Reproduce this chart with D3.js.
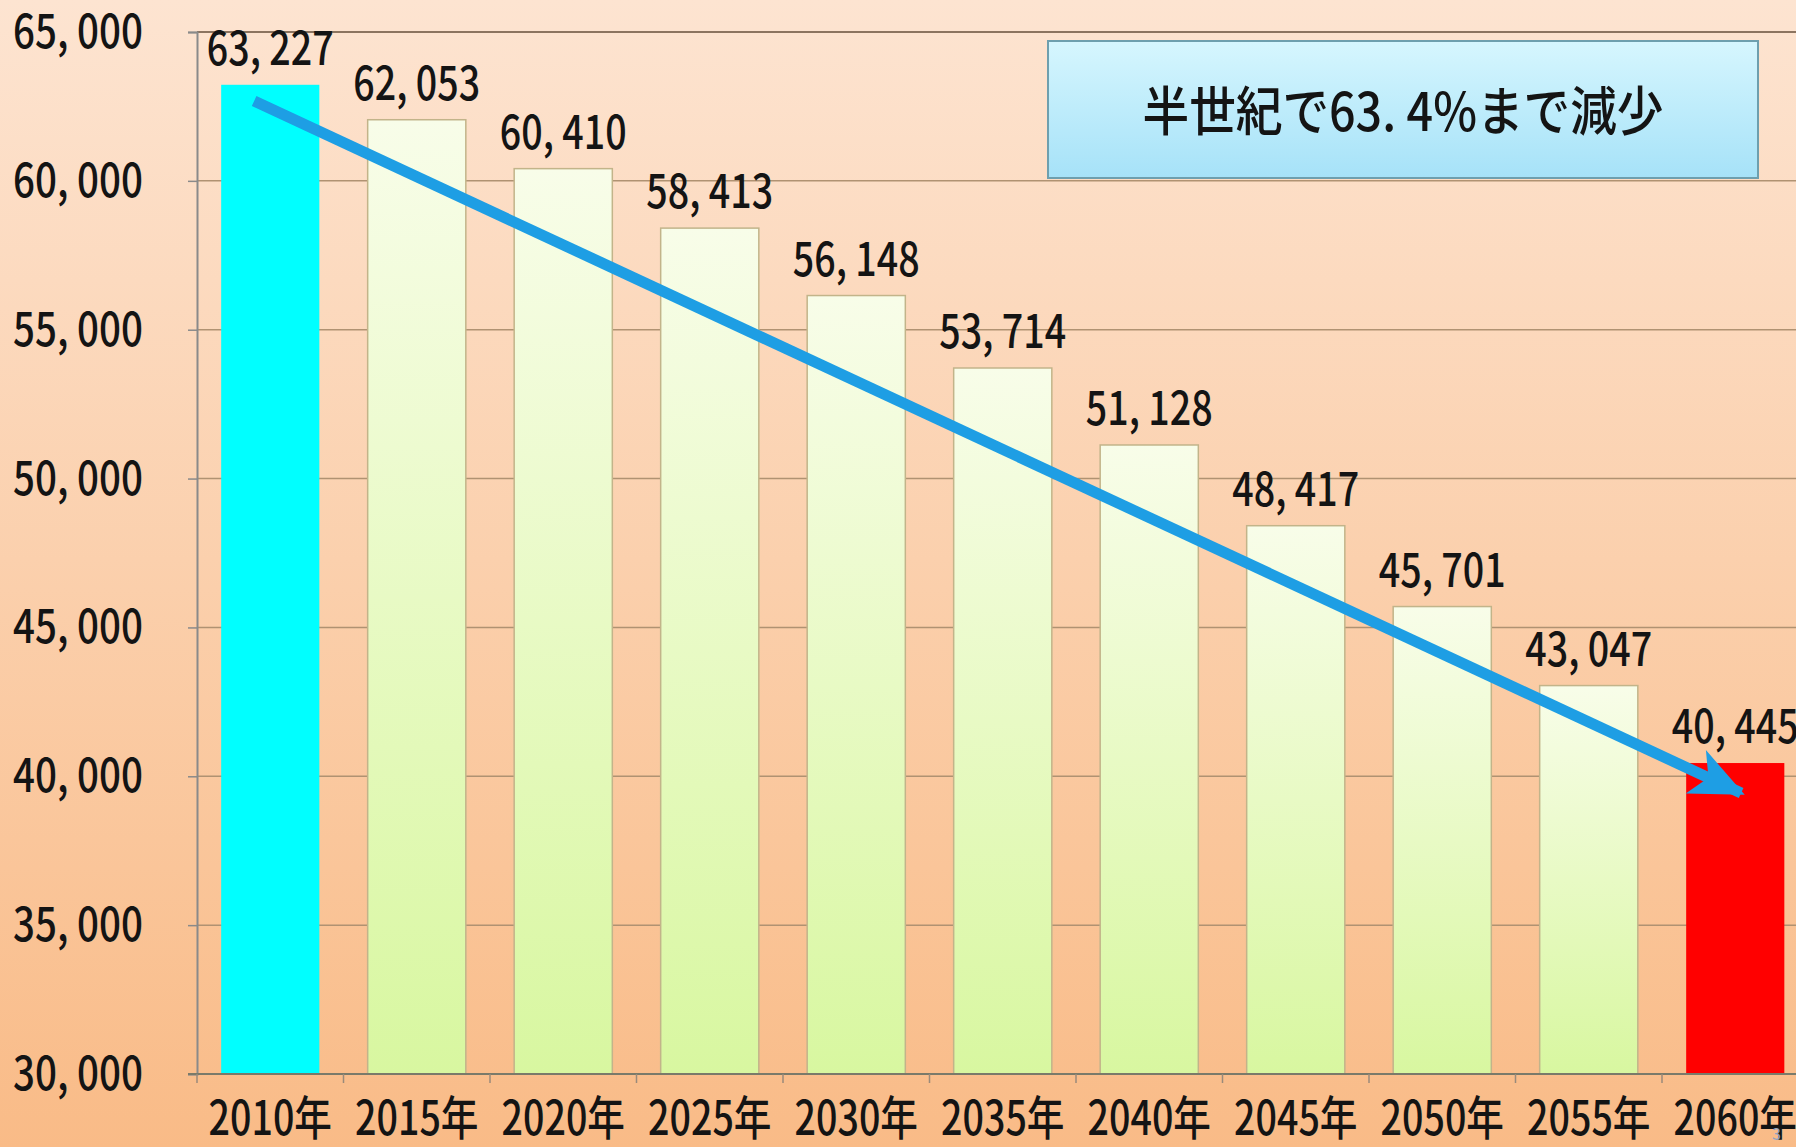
<!doctype html>
<html>
<head>
<meta charset="UTF-8">
<title>人口推移</title>
<script src="https://d3js.org/d3.v7.min.js"></script>
<style>
  body { margin: 0; }
  text { font-family: "Noto Sans CJK JP", "Noto Sans", sans-serif; }
</style>
</head>
<body>
<script>
// データ
var years = ["2010年", "2015年", "2020年", "2025年", "2030年", "2035年", "2040年", "2045年", "2050年", "2055年", "2060年"];
var values = [63227, 62053, 60410, 58413, 56148, 53714, 51128, 48417, 45701, 43047, 40445];
var yTicks = [30000, 35000, 40000, 45000, 50000, 55000, 60000, 65000];
var note = "半世紀で63. 4%まで減少";
// 矢印の始点と終点（カテゴリ, 値）
var arrowFrom = ["2010年", 62680];
var arrowTo = ["2060年", 39440];

var W = 1796, H = 1147;
var left = 197, plotTop = 32, bottom = 1074;
var step = 146.5;

var svg = d3.select("body").append("svg").attr("width", W).attr("height", H);
var defs = svg.append("defs");

var bg = defs.append("linearGradient").attr("id", "bg").attr("x1", 0).attr("y1", 0).attr("x2", 0).attr("y2", 1);
bg.append("stop").attr("offset", "0%").attr("stop-color", "#fde4d1");
bg.append("stop").attr("offset", "100%").attr("stop-color", "#f9bb87");

var barG = defs.append("linearGradient").attr("id", "barG").attr("x1", 0).attr("y1", 0).attr("x2", 0).attr("y2", 1);
barG.append("stop").attr("offset", "0%").attr("stop-color", "#f8fde9");
barG.append("stop").attr("offset", "100%").attr("stop-color", "#d8f7a0");

var boxG = defs.append("linearGradient").attr("id", "boxG").attr("x1", 0).attr("y1", 0).attr("x2", 0).attr("y2", 1);
boxG.append("stop").attr("offset", "0%").attr("stop-color", "#d6f6fe");
boxG.append("stop").attr("offset", "100%").attr("stop-color", "#a6e2f8");

defs.append("marker").attr("id", "head")
  .attr("markerUnits", "userSpaceOnUse")
  .attr("viewBox", "0 0 60 60").attr("refX", 52).attr("refY", 30)
  .attr("markerWidth", 60).attr("markerHeight", 60).attr("orient", "auto")
  .append("path").attr("d", "M2,6 L56,30 L2,54 L16,30 Z").attr("fill", "#1e9ee4");

svg.append("rect").attr("width", W).attr("height", H).attr("fill", "url(#bg)");

var x = d3.scaleBand().domain(years).range([left, left + step * years.length])
  .paddingInner(0.33).paddingOuter(0.165);
var y = d3.scaleLinear().domain([30000, 65000]).range([bottom, plotTop]);

function fmt(v) { return d3.format(",")(v).replace(",", ", "); }

// 目盛線
svg.append("g").selectAll("line").data(yTicks.slice(1)).enter().append("line")
  .attr("x1", left).attr("x2", left + step * years.length)
  .attr("y1", function(d) { return y(d); }).attr("y2", function(d) { return y(d); })
  .attr("stroke", function(d) { return d == 65000 ? "#8c7460" : "#b09272"; })
  .attr("stroke-width", function(d) { return d == 65000 ? 2 : 1.5; });

// 棒
svg.append("g").selectAll("rect").data(values).enter().append("rect")
  .attr("x", function(d, i) { return x(years[i]); })
  .attr("y", function(d) { return y(d); })
  .attr("width", x.bandwidth())
  .attr("height", function(d) { return bottom - y(d); })
  .attr("fill", function(d, i) {
    if (i == 0) return "#00ffff";
    if (i == values.length - 1) return "#ff0000";
    return "url(#barG)";
  })
  .attr("stroke", function(d, i) { return (i == 0 || i == values.length - 1) ? "none" : "#c2b48a"; })
  .attr("stroke-width", 1.5);

// 軸
var yAxis = svg.append("g").attr("transform", "translate(" + left + ",0)")
  .call(d3.axisLeft(y).tickValues(yTicks).tickSize(9).tickFormat(""));
yAxis.select(".domain").attr("stroke", "#8a8a8a").attr("stroke-width", 2);
yAxis.selectAll(".tick line").attr("stroke", "#8a8a8a").attr("stroke-width", 1.5);

var xAxis = svg.append("g").attr("transform", "translate(0," + bottom + ")");
xAxis.append("line").attr("x1", left - 9).attr("x2", left + step * years.length)
  .attr("stroke", "#7a7a6a").attr("stroke-width", 2);
xAxis.selectAll("line.tk").data(d3.range(years.length + 1)).enter().append("line")
  .attr("class", "tk")
  .attr("x1", function(d) { return left + d * step; }).attr("x2", function(d) { return left + d * step; })
  .attr("y1", 0).attr("y2", 9).attr("stroke", "#9a8a7a").attr("stroke-width", 1.5);

// 文字（縦長の字形に合わせて横を詰める）
function label(g, tx, ty, str, size, anchor, sx) {
  return g.append("text")
    .attr("transform", "translate(" + tx + "," + ty + ") scale(" + sx + ",1)")
    .attr("text-anchor", anchor).attr("font-size", size)
    .attr("font-weight", 500)
    .attr("fill", "#141414").text(str);
}

var tg = svg.append("g");
yTicks.forEach(function(t) { label(tg, 143, y(t) + 16, fmt(t), 47, "end", 0.82); });
years.forEach(function(c) { label(tg, x(c) + x.bandwidth() / 2, 1135, c, 47, "middle", 0.8); });
values.forEach(function(v, i) {
  label(tg, x(years[i]) + x.bandwidth() / 2, y(v) - 20, fmt(v), 47, "middle", 0.8);
});

// 矢印
function ax(p, s) { return x(p[0]) + x.bandwidth() / 2 + s * step; }
svg.append("line")
  .attr("x1", ax(arrowFrom, -0.11)).attr("y1", y(arrowFrom[1]))
  .attr("x2", ax(arrowTo, 0.04)).attr("y2", y(arrowTo[1]))
  .attr("stroke", "#1e9ee4").attr("stroke-width", 11)
  .attr("marker-end", "url(#head)");

// 注記
svg.append("rect").attr("x", 1048).attr("y", 41).attr("width", 710).attr("height", 137)
  .attr("fill", "url(#boxG)").attr("stroke", "#6e9fae").attr("stroke-width", 2);
label(svg, 1403, 131, note, 53, "middle", 0.88);

svg.append("text").attr("x", 1772).attr("y", 1140).attr("font-size", 16)
  .attr("fill", "#8fa3c0").text("3");
</script>
</body>
</html>
